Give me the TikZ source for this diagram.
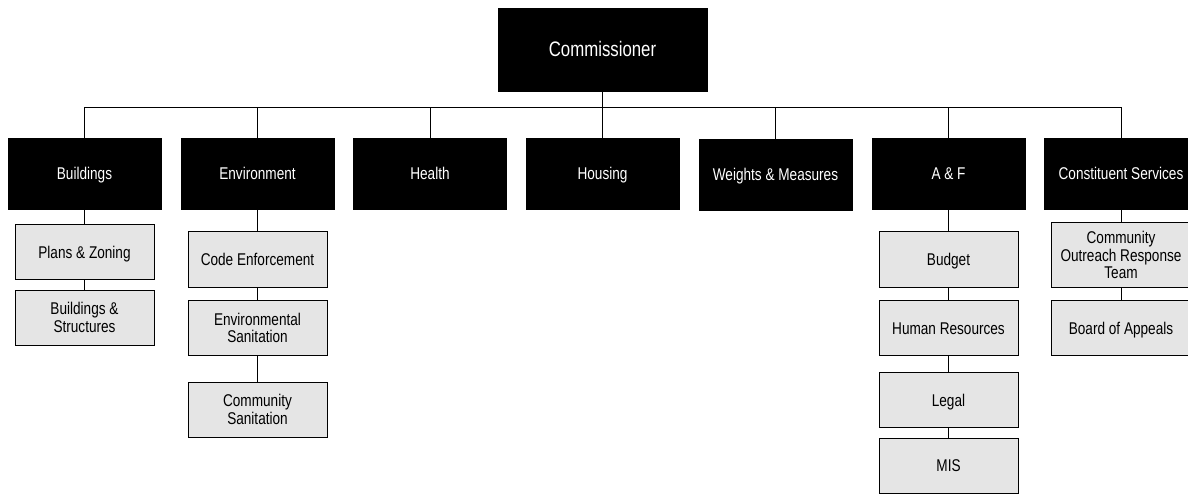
\documentclass[tikz,border=0pt]{standalone}
\usepackage{fontspec}
\setmainfont[FakeStretch=0.8]{Liberation Sans}
\begin{document}
\begin{tikzpicture}[x=1pt,y=-1pt,
  top/.style={draw=black,fill=black,text=white,minimum width=209pt,minimum height=83pt,inner sep=0pt,text height=15pt,text depth=0pt,font=\fontsize{21}{24}\selectfont},
  dept/.style={draw=black,fill=black,text=white,minimum width=153pt,minimum height=71pt,inner sep=0pt,text height=12pt,text depth=0pt,font=\fontsize{17}{18}\selectfont},
  unitbase/.style={draw=black,line width=1pt,fill=black!10,minimum width=139pt,minimum height=55pt,inner sep=0pt,align=center,font=\fontsize{17}{17.5}\selectfont},
  unit/.style={unitbase,text height=12pt,text depth=0pt},
  unitmulti/.style={unitbase},
  link/.style={draw=black,line width=0.8pt}]
\useasboundingbox (0,0) rectangle (1188,494);
\begin{scope}
\clip (0,0) rectangle (1188,494);
% top
\node[top] (com) at (602.5,49.5) {Commissioner};
% bus
\coordinate (busL) at (85,107);
\coordinate (busR) at (1121,107);
\coordinate (busC) at (602.5,107);
\draw[link] (busL) -- (busR);
\draw[link] (com.south) -- (busC);
% departments
\node[dept] (bld) at (84.5,173.5) {Buildings};
\node[dept] (env) at (257.5,173.5) {Environment};
\node[dept] (hlt) at (430,173.5) {Health};
\node[dept] (hou) at (602.5,173.5) {Housing};
\node[dept] (wm) at (775.5,174.5) {Weights \& Measures};
\node[dept] (af) at (948.5,173.5) {A \& F};
\node[dept] (cs) at (1121,173.5) {Constituent Services};
\foreach \n in {bld,env,hlt,hou,wm,af,cs}{
  \draw[link] (\n.north) -- (\n.north |- busL);
}
% Buildings units
\node[unit] (pz) at (84.5,252.5) {Plans \& Zoning};
\node[unitmulti] (bs) at (84.5,317.5) {Buildings \&\\Structures};
\draw[link] (bld.south) -- (pz.north);
\draw[link] (pz.south) -- (bs.north);
% Environment units
\node[unit] (ce) at (257.5,259.5) {Code Enforcement};
\node[unitmulti] (es) at (257.5,328) {Environmental\\Sanitation};
\node[unitmulti] (cms) at (257.5,409.5) {Community\\Sanitation};
\draw[link] (env.south) -- (ce.north);
\draw[link] (ce.south) -- (es.north);
\draw[link] (es.south) -- (cms.north);
% A&F units
\node[unit] (bud) at (948.5,259.5) {Budget};
\node[unit] (hr) at (948.5,328) {Human Resources};
\node[unit] (leg) at (948.5,400) {Legal};
\node[unit] (mis) at (948.5,465.5) {MIS};
\draw[link] (af.south) -- (bud.north);
\draw[link] (bud.south) -- (hr.north);
\draw[link] (hr.south) -- (leg.north);
\draw[link] (leg.south) -- (mis.north);
% Constituent Services units
\node[unitmulti,minimum height=64pt] (cort) at (1121,255) {Community\\Outreach Response\\Team};
\node[unit] (boa) at (1121,328) {Board of Appeals};
\draw[link] (cs.south) -- (cort.north);
\draw[link] (cort.south) -- (boa.north);
\end{scope}
\end{tikzpicture}
\end{document}
